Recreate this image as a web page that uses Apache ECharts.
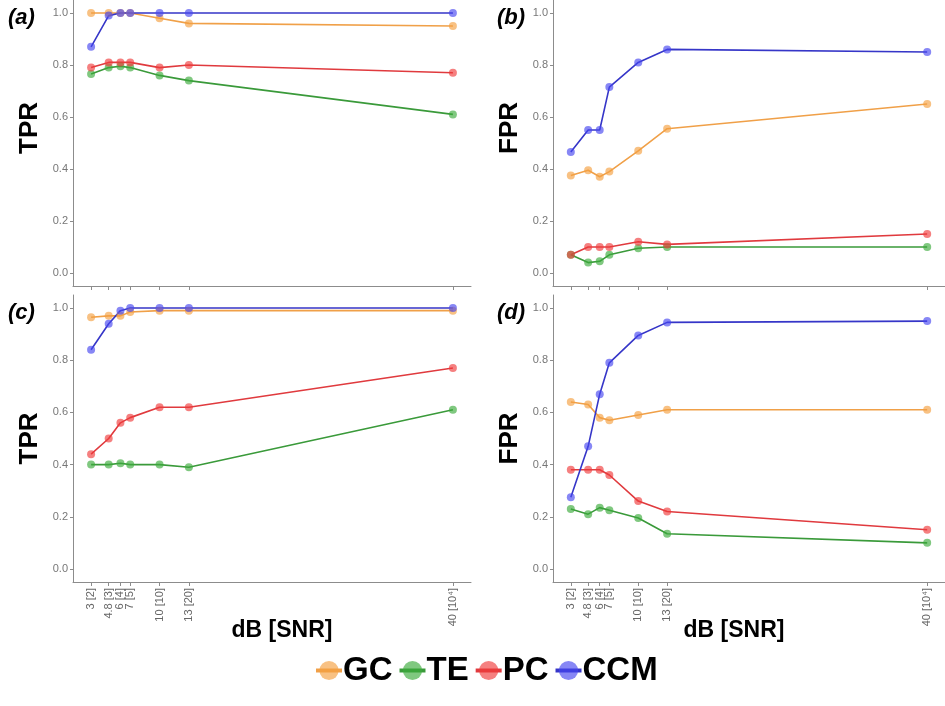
<!DOCTYPE html>
<html><head><meta charset="utf-8">
<script src="https://cdn.jsdelivr.net/npm/echarts@6/dist/echarts.min.js"></script>
<style>html,body{margin:0;padding:0;background:#fff}#c{width:945px;height:706px}</style>
</head><body><div id="c"></div>
<script>
const xVals = [3, 4.8, 6, 7, 10, 13, 40];
const xLabels = ['3 [2]', '4.8 [3]', '6 [4]', '7 [5]', '10 [10]', '13 [20]', '40 [10\u2074]'];
const yTicks = [0, 0.2, 0.4, 0.6, 0.8, 1.0];
const methods = ['GC', 'TE', 'PC', 'CCM'];

// Panel (a) TPR
const a_GC  = [1.0, 1.0, 1.0, 1.0, 0.98, 0.96, 0.95];
const a_TE  = [0.765, 0.79, 0.795, 0.79, 0.76, 0.74, 0.61];
const a_PC  = [0.79, 0.81, 0.81, 0.81, 0.79, 0.80, 0.77];
const a_CCM = [0.87, 0.99, 1.0, 1.0, 1.0, 1.0, 1.0];
// Panel (b) FPR
const b_GC  = [0.375, 0.395, 0.37, 0.39, 0.47, 0.555, 0.65];
const b_TE  = [0.07, 0.04, 0.045, 0.07, 0.095, 0.10, 0.10];
const b_PC  = [0.07, 0.10, 0.10, 0.10, 0.12, 0.11, 0.15];
const b_CCM = [0.465, 0.55, 0.55, 0.715, 0.81, 0.86, 0.85];
// Panel (c) TPR
const c_GC  = [0.965, 0.97, 0.97, 0.985, 0.99, 0.99, 0.99];
const c_TE  = [0.40, 0.40, 0.405, 0.40, 0.40, 0.39, 0.61];
const c_PC  = [0.44, 0.50, 0.56, 0.58, 0.62, 0.62, 0.77];
const c_CCM = [0.84, 0.94, 0.99, 1.0, 1.0, 1.0, 1.0];
// Panel (d) FPR
const d_GC  = [0.64, 0.63, 0.58, 0.57, 0.59, 0.61, 0.61];
const d_TE  = [0.23, 0.21, 0.235, 0.225, 0.195, 0.135, 0.10];
const d_PC  = [0.38, 0.38, 0.38, 0.36, 0.26, 0.22, 0.15];
const d_CCM = [0.275, 0.47, 0.67, 0.79, 0.895, 0.945, 0.95];

const panels = [
  {label: '(a)', yName: 'TPR', data: [a_GC, a_TE, a_PC, a_CCM]},
  {label: '(b)', yName: 'FPR', data: [b_GC, b_TE, b_PC, b_CCM]},
  {label: '(c)', yName: 'TPR', data: [c_GC, c_TE, c_PC, c_CCM]},
  {label: '(d)', yName: 'FPR', data: [d_GC, d_TE, d_PC, d_CCM]}
];

const lineColors = ['#f0a048', '#3a9a3a', '#e03a3e', '#3636c8'];
const dotColors = ['rgba(245,160,64,0.65)', 'rgba(60,170,60,0.65)', 'rgba(240,60,60,0.65)', 'rgba(70,70,240,0.65)'];

const grids = [
  {left: 73, top: 0, width: 398, height: 286},
  {left: 553, top: 0, width: 400, height: 286},
  {left: 73, top: 295, width: 398, height: 287},
  {left: 553, top: 295, width: 400, height: 287}
];

const FONT = 'Liberation Sans, Arial, sans-serif';
const xAxes = [], yAxes = [], series = [], graphics = [];
panels.forEach((p, i) => {
  const bottomRow = i >= 2;
  xAxes.push({
    type: 'value', gridIndex: i, min: 1.15, max: 41.85,
    axisLine: {show: true, onZero: false, lineStyle: {color: '#8c8c8c', width: 1}},
    axisTick: {show: true, customValues: xVals, length: 4, lineStyle: {color: '#8c8c8c'}},
    axisLabel: {show: bottomRow, customValues: xVals, rotate: 90, fontSize: 11, color: '#666', fontFamily: FONT, margin: 6,
      formatter: v => { const k = xVals.indexOf(v); return k >= 0 ? xLabels[k] : ''; }},
    splitLine: {show: false},
    name: bottomRow ? 'dB [SNR]' : '', nameLocation: 'middle', nameGap: 37, nameMoveOverlap: false,
    nameTextStyle: {fontSize: 23, fontWeight: 'bold', color: '#000', fontFamily: FONT,
      padding: (i === 3) ? [0, 30, 0, 0] : [0, 0, 0, 20]}
  });
  yAxes.push({
    type: 'value', gridIndex: i, min: -0.05, max: 1.05,
    axisLine: {show: true, onZero: false, lineStyle: {color: '#8c8c8c', width: 1}},
    axisTick: {show: true, customValues: yTicks, length: 3, lineStyle: {color: '#8c8c8c'}},
    axisLabel: {customValues: yTicks, fontSize: 11, color: '#777', fontFamily: FONT, margin: 5,
      formatter: v => v.toFixed(1)},
    splitLine: {show: false},
    name: p.yName, nameLocation: 'middle', nameGap: 30, nameRotate: 90, nameMoveOverlap: false,
    nameTextStyle: {fontSize: 26, fontWeight: 'bold', color: '#000', fontFamily: FONT,
      padding: bottomRow ? 0 : [0, 0, 0, 30]}
  });
  p.data.forEach((vals, m) => {
    series.push({
      name: methods[m], type: 'line', xAxisIndex: i, yAxisIndex: i,
      data: xVals.map((x, k) => [x, vals[k]]),
      symbol: 'circle', symbolSize: 8, showSymbol: true,
      lineStyle: {color: lineColors[m], width: 1.6},
      itemStyle: {color: dotColors[m], borderWidth: 0},
      emphasis: {disabled: true}, animation: false
    });
  });
  graphics.push({
    type: 'text', left: (i % 2 === 0) ? 8 : 497, top: bottomRow ? 302 : 7,
    style: {text: p.label, font: 'italic bold 22px ' + FONT, fill: '#000'}
  });
});

const chart = echarts.init(document.getElementById('c'), null, {renderer: 'canvas'});
chart.setOption({
  animation: false,
  grid: grids,
  xAxis: xAxes,
  yAxis: yAxes,
  series: series,
  graphic: graphics,
  legend: {
    data: methods, bottom: 14, left: 309,
    itemWidth: 26, itemHeight: 24, itemGap: 5,
    lineStyle: {width: 4},
    textStyle: {fontSize: 33, fontWeight: 'bold', color: '#000', fontFamily: FONT, padding: [0, 0, 0, -4]},
    selectedMode: false
  }
});
</script></body></html>
